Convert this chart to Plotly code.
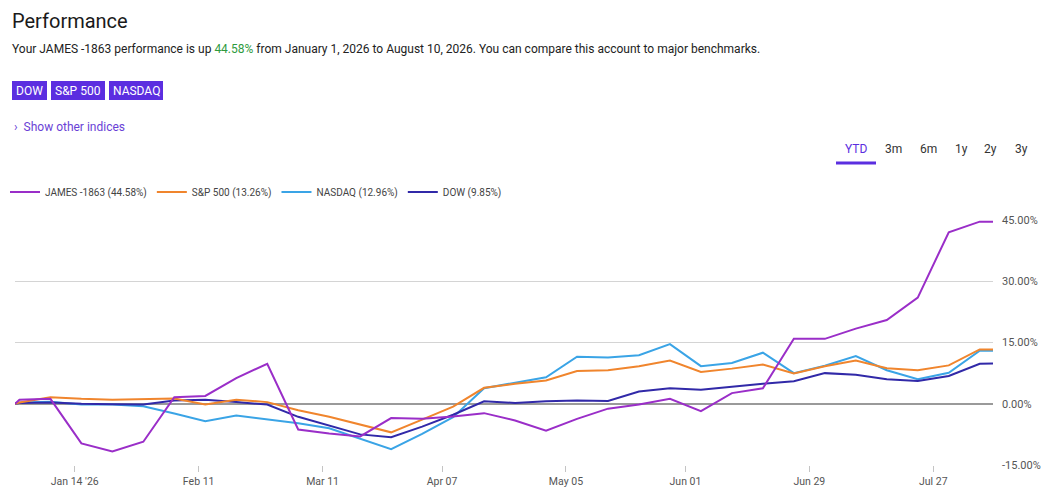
import plotly.graph_objects as go

# weekly sample dates (first point is the Jan 1 baseline, last is the report date)
dates = ["2026-01-01", "2026-01-02", "2026-01-09", "2026-01-16", "2026-01-23", "2026-01-30",
         "2026-02-06", "2026-02-13", "2026-02-20", "2026-02-27", "2026-03-06", "2026-03-13",
         "2026-03-20", "2026-03-27", "2026-04-03", "2026-04-10", "2026-04-17", "2026-04-24",
         "2026-05-01", "2026-05-08", "2026-05-15", "2026-05-22", "2026-05-29", "2026-06-05",
         "2026-06-12", "2026-06-19", "2026-06-26", "2026-07-03", "2026-07-10", "2026-07-17",
         "2026-07-24", "2026-07-31", "2026-08-07", "2026-08-10"]

james = [0, 1.0, 1.2, -9.7, -11.7, -9.3, 1.6, 1.9, 6.3, 9.8, -6.3, -7.3, -8.0, -3.5, -3.7, -3.1, -2.3,
         -4.1, -6.6, -3.7, -1.2, -0.2, 1.2, -1.8, 2.6, 3.8, 15.9, 15.9, 18.4, 20.5, 26.0, 42.0, 44.6, 44.58]
sp500 = [0, 0.3, 1.6, 1.2, 1.0, 1.2, 1.3, -0.2, 1.0, 0.4, -1.6, -3.2, -5.1, -7.0, -3.9, -0.7, 3.9,
         4.9, 5.7, 8.0, 8.2, 9.2, 10.6, 7.8, 8.6, 9.6, 7.4, 9.2, 10.6, 8.7, 8.2, 9.4, 13.3, 13.26]
nasdaq = [0, 0.3, 0.5, -0.2, -0.2, -0.6, -2.4, -4.3, -2.9, -3.8, -4.8, -6.0, -8.5, -11.1, -7.4, -3.3, 3.8,
          5.2, 6.5, 11.5, 11.3, 11.9, 14.6, 9.2, 10.0, 12.5, 7.5, 9.3, 11.7, 8.2, 6.0, 7.6, 13.0, 12.96]
dow = [0, 0.2, 0.3, 0.0, -0.1, -0.2, 0.8, 1.0, 0.4, -0.2, -3.2, -5.3, -7.5, -8.2, -5.6, -2.7, 0.6,
       0.2, 0.6, 0.8, 0.7, 3.0, 3.8, 3.4, 4.2, 4.9, 5.5, 7.5, 7.1, 6.0, 5.6, 6.8, 9.8, 9.85]

series_names = ["JAMES -1863 (44.58%)", "S&P 500 (13.26%)", "NASDAQ (12.96%)", "DOW (9.85%)"]

tick_dates = ["2026-01-14 12:00", "2026-02-11 12:00", "2026-03-11 12:00", "2026-04-07 12:00",
              "2026-05-05 12:00", "2026-06-01 12:00", "2026-06-29 12:00", "2026-07-27 12:00"]
tick_labels = ["Jan 14 '26", "Feb 11", "Mar 11", "Apr 07", "May 05", "Jun 01", "Jun 29", "Jul 27"]

y_ticks = [-15, 0, 15, 30, 45]
y_labels = ["-15.00%", "0.00%", "15.00%", "30.00%", "45.00%"]

index_buttons = ["DOW", "S&P 500", "NASDAQ"]
range_buttons = ["YTD", "3m", "6m", "1y", "2y", "3y"]

FONT = "Roboto"
PURPLE_BTN = "#5b2ee0"

# the page body adds an 8px margin, so everything is laid out 8px up/left
OFF = 8
FW, FH = 1052 - OFF, 502 - OFF
L, R, T, B = 15 - OFF, 993 - OFF, 220 - OFF, 465 - OFF


def px(x, y):
    # reference-screen pixel -> paper fraction
    x, y = x - OFF, y - OFF
    return (x - L) / (R - L), (B - y) / (B - T)


fig = go.Figure()

# drawing order: nasdaq at the bottom, james on top
traces = [
    (nasdaq, series_names[2], "#3aa4e6", 3),
    (dow, series_names[3], "#3129a8", 4),
    (sp500, series_names[1], "#f0852d", 2),
    (james, series_names[0], "#9a2ec8", 1),
]
for vals, name, color, rank in traces:
    fig.add_trace(go.Scatter(x=dates, y=vals, mode="lines", name=name,
                             line=dict(color=color, width=2), legendrank=rank))

ann = []
shapes = []


def text(x, y, s, size, color, anchor="left"):
    xp, yp = px(x, y)
    ann.append(dict(x=xp, y=yp, xref="paper", yref="paper", text=s, showarrow=False,
                    xanchor=anchor, yanchor="middle", font=dict(size=size, color=color, family=FONT)))


text(10, 21, "Performance", 20, "#1a1a1a")
text(10, 49, "Your JAMES -1863 performance is up <span style='color:#2e9a3e'>44.58%</span> "
             "from January 1, 2026 to August 10, 2026. You can compare this account to major benchmarks.",
     12, "#222")

# index chips
chip_x = [(12, 47), (51, 105), (109, 163)]
for label, (a, b) in zip(index_buttons, chip_x):
    xa, ya = px(a, 81)
    xb, yb = px(b, 100)
    shapes.append(dict(type="rect", xref="paper", yref="paper", x0=xa, x1=xb, y0=yb, y1=ya,
                       fillcolor=PURPLE_BTN, line=dict(width=0)))
    text((a + b) / 2, 91, label, 12, "white", "center")

text(12, 127, "›  Show other indices", 12, "#6a3fd6")

# range selector
range_x = [856, 893, 928, 961, 990, 1021]
for label, cx in zip(range_buttons, range_x):
    text(cx, 149, label, 12, PURPLE_BTN if label == "YTD" else "#333", "center")
xa, ya = px(836, 163)
xb, _ = px(876, 163)
shapes.append(dict(type="line", xref="paper", yref="paper", x0=xa, x1=xb, y0=ya, y1=ya,
                   line=dict(color=PURPLE_BTN, width=3)))

lx, ly = px(5, 192)

fig.update_layout(
    width=FW, height=FH,
    margin=dict(l=L, r=FW - R, t=T, b=FH - B, autoexpand=False),
    paper_bgcolor="white", plot_bgcolor="white",
    font=dict(family=FONT, size=11, color="#444"),
    showlegend=True,
    legend=dict(orientation="h", x=lx, y=ly, xanchor="left", yanchor="middle",
                font=dict(size=10, color="#444", family=FONT), bgcolor="rgba(0,0,0,0)"),
    annotations=ann,
    shapes=shapes,
    hovermode="x unified",
)

fig.update_xaxes(type="date", range=[dates[0], dates[-1]], tickvals=tick_dates, ticktext=tick_labels,
                 showgrid=False, showline=False, zeroline=False, ticks="outside", ticklen=6,
                 tickcolor="#c4c4c4", tickfont=dict(size=10.5, color="#555"))
fig.update_yaxes(side="right", range=[-15, 45], tickvals=y_ticks, ticktext=y_labels,
                 showgrid=True, gridcolor="#d4d4d4", gridwidth=1,
                 zeroline=True, zerolinecolor="#9a9a9a", zerolinewidth=2,
                 showline=False, ticks="", ticklabelstandoff=8,
                 tickfont=dict(size=11, color="#555"))

fig.write_html("out.html", config={"displayModeBar": False})
